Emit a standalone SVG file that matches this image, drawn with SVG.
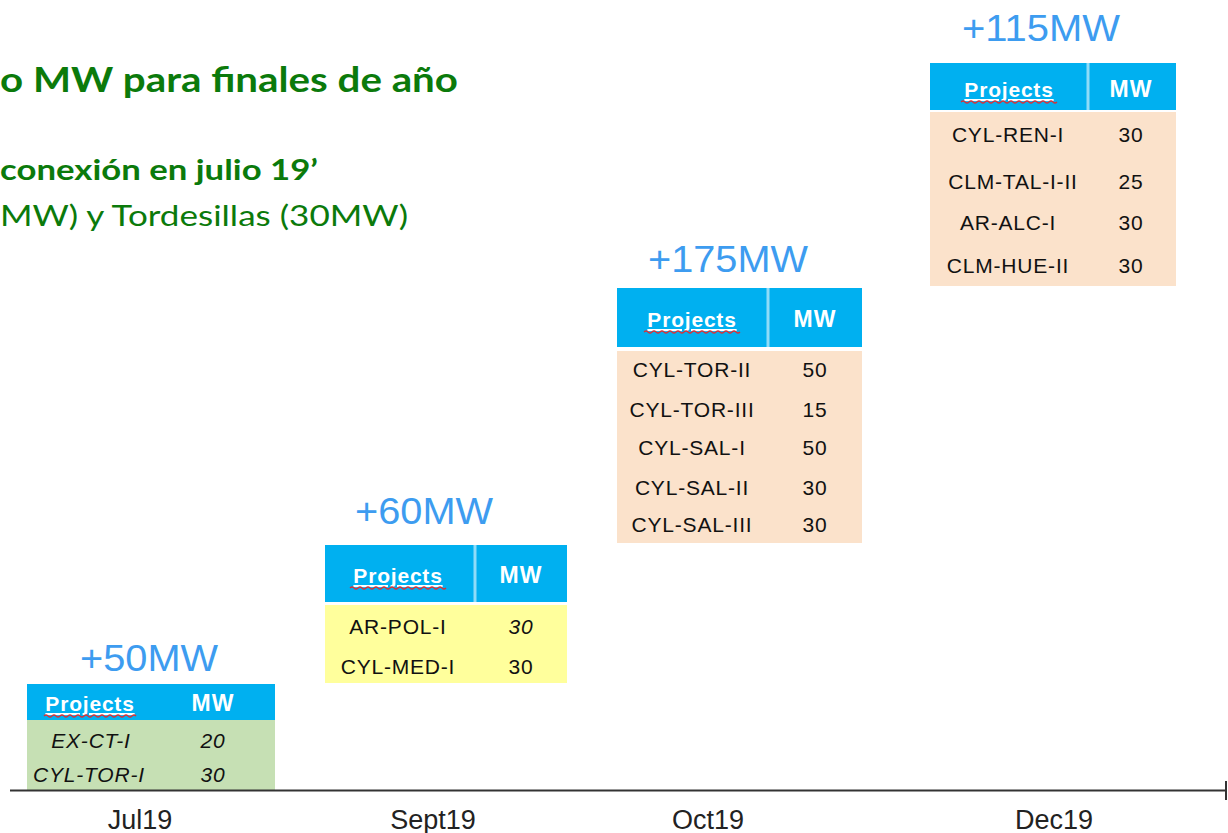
<svg xmlns="http://www.w3.org/2000/svg" width="1228" height="833" viewBox="0 0 1228 833">
<defs>
<style>
.title{font-family:"Lato","Open Sans",sans-serif;fill:#0b7a0b}
.b{font-weight:bold}
.big{font-family:"Liberation Sans",Arial,sans-serif;font-size:36px;fill:#3d9cf0;text-anchor:middle}
.hdr{fill:#00b0f0}
.ht{font-family:"Liberation Sans",Arial,sans-serif;font-size:21px;font-weight:bold;fill:#ffffff;text-anchor:middle;letter-spacing:0.8px}
.mw{font-size:23px;letter-spacing:1px}
.cell{font-family:"Liberation Sans",Arial,sans-serif;font-size:21px;fill:#111111;text-anchor:middle;letter-spacing:0.8px}
.it{font-style:italic}
.sep{stroke:#8fdcf8;stroke-width:3}
.squig{fill:none;stroke:#d0343c;stroke-width:1.3}
.axis{font-family:"Liberation Sans",Arial,sans-serif;font-size:27px;fill:#222222;text-anchor:middle}
</style>
</defs>
<rect width="1228" height="833" fill="#ffffff"/>

<g id="title">
<text class="title b" x="0" y="92" font-size="34" textLength="458" lengthAdjust="spacingAndGlyphs">o MW para finales de año</text>
<text class="title b" x="0" y="180" font-size="28" textLength="318" lengthAdjust="spacingAndGlyphs">conexión en julio 19’</text>
<text class="title" x="0" y="226" font-size="28" textLength="408" lengthAdjust="spacingAndGlyphs">MW) y Tordesillas (30MW)</text>
</g>

<g id="jul19">
<text class="big" x="149" y="671" textLength="138" lengthAdjust="spacingAndGlyphs">+50MW</text>
<rect class="hdr" x="27" y="684" width="248" height="36"/>
<rect x="27" y="720" width="248" height="70" fill="#c6e0b4"/>
<text class="ht" x="90" y="711" text-decoration="underline">Projects</text>
<path class="squig" d="M44 716 q2 -2 4 0 t4 0 t4 0 t4 0 t4 0 t4 0 t4 0 t4 0 t4 0 t4 0 t4 0 t4 0 t4 0 t4 0 t4 0 t4 0 t4 0 t4 0 t4 0 t4 0 t4 0 t4 0 t4 0"/>
<text class="ht mw" x="213" y="711">MW</text>
<text class="cell it" x="91" y="748">EX-CT-I</text>
<text class="cell it" x="213" y="748">20</text>
<text class="cell it" x="89" y="782">CYL-TOR-I</text>
<text class="cell it" x="213" y="782">30</text>
</g>

<g id="sept19">
<text class="big" x="424" y="524" textLength="138" lengthAdjust="spacingAndGlyphs">+60MW</text>
<rect class="hdr" x="325" y="545" width="242" height="57"/>
<line class="sep" x1="475" y1="545" x2="475" y2="602"/>
<rect x="325" y="605" width="242" height="78" fill="#ffff9c"/>
<text class="ht" x="398" y="583" text-decoration="underline">Projects</text>
<path class="squig" d="M350 588 q2 -2 4 0 t4 0 t4 0 t4 0 t4 0 t4 0 t4 0 t4 0 t4 0 t4 0 t4 0 t4 0 t4 0 t4 0 t4 0 t4 0 t4 0 t4 0 t4 0 t4 0 t4 0 t4 0 t4 0 t4 0"/>
<text class="ht mw" x="521" y="583">MW</text>
<text class="cell" x="398" y="634">AR-POL-I</text>
<text class="cell it" x="521" y="634">30</text>
<text class="cell" x="398" y="674">CYL-MED-I</text>
<text class="cell" x="521" y="674">30</text>
</g>

<g id="oct19">
<text class="big" x="728" y="272" textLength="160" lengthAdjust="spacingAndGlyphs">+175MW</text>
<rect class="hdr" x="617" y="288" width="245" height="59"/>
<line class="sep" x1="768" y1="288" x2="768" y2="347"/>
<rect x="617" y="351" width="245" height="192" fill="#fbe2cb"/>
<text class="ht" x="692" y="327" text-decoration="underline">Projects</text>
<path class="squig" d="M644 332 q2 -2 4 0 t4 0 t4 0 t4 0 t4 0 t4 0 t4 0 t4 0 t4 0 t4 0 t4 0 t4 0 t4 0 t4 0 t4 0 t4 0 t4 0 t4 0 t4 0 t4 0 t4 0 t4 0 t4 0 t4 0"/>
<text class="ht mw" x="815" y="327">MW</text>
<text class="cell" x="692" y="377">CYL-TOR-II</text>
<text class="cell" x="815" y="377">50</text>
<text class="cell" x="692" y="417">CYL-TOR-III</text>
<text class="cell" x="815" y="417">15</text>
<text class="cell" x="692" y="455">CYL-SAL-I</text>
<text class="cell" x="815" y="455">50</text>
<text class="cell" x="692" y="495">CYL-SAL-II</text>
<text class="cell" x="815" y="495">30</text>
<text class="cell" x="692" y="532">CYL-SAL-III</text>
<text class="cell" x="815" y="532">30</text>
</g>

<g id="dec19">
<text class="big" x="1041" y="41" textLength="158" lengthAdjust="spacingAndGlyphs">+115MW</text>
<rect class="hdr" x="930" y="63" width="246" height="47"/>
<line class="sep" x1="1088" y1="63" x2="1088" y2="110"/>
<rect x="930" y="112" width="246" height="174" fill="#fbe2cb"/>
<text class="ht" x="1009" y="97" text-decoration="underline">Projects</text>
<path class="squig" d="M961 102 q2 -2 4 0 t4 0 t4 0 t4 0 t4 0 t4 0 t4 0 t4 0 t4 0 t4 0 t4 0 t4 0 t4 0 t4 0 t4 0 t4 0 t4 0 t4 0 t4 0 t4 0 t4 0 t4 0 t4 0 t4 0"/>
<text class="ht mw" x="1131" y="97">MW</text>
<text class="cell" x="1008" y="142">CYL-REN-I</text>
<text class="cell" x="1131" y="142">30</text>
<text class="cell" x="1013" y="189">CLM-TAL-I-II</text>
<text class="cell" x="1131" y="189">25</text>
<text class="cell" x="1008" y="230">AR-ALC-I</text>
<text class="cell" x="1131" y="230">30</text>
<text class="cell" x="1008" y="273">CLM-HUE-II</text>
<text class="cell" x="1131" y="273">30</text>
</g>

<g id="connectors">
<line x1="10" y1="790.5" x2="1226" y2="790.5" stroke="#333333" stroke-width="2"/>
<line x1="1226" y1="781" x2="1226" y2="800" stroke="#333333" stroke-width="2"/>
</g>

<g id="axis-labels">
<text class="axis" x="140" y="829">Jul19</text>
<text class="axis" x="433" y="829">Sept19</text>
<text class="axis" x="708" y="829">Oct19</text>
<text class="axis" x="1054" y="829">Dec19</text>
</g>
</svg>
